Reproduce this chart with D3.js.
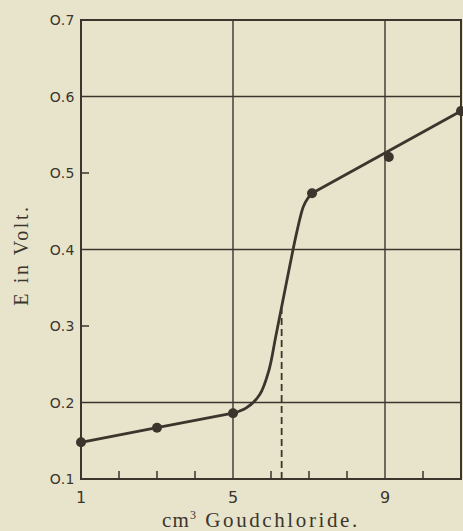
<!DOCTYPE html>
<html>
<head>
<meta charset="utf-8">
<script src="https://cdn.jsdelivr.net/npm/d3@7"></script>
<style>
  body { margin: 0; background: #e7e4cb; }
  svg { display: block; }
</style>
</head>
<body>
<svg id="chart" width="463" height="531"></svg>
<script>
// measured points (cm3 goudchloride, E in volt)
var pointX = [1, 3, 5, 7.08, 9.1, 11];
var pointY = [0.148, 0.167, 0.186, 0.4735, 0.521, 0.581];

// drawn curve: straight before 5, steep S between 5 and 7, straight after 7
var lowX = [1, 3, 5];
var lowY = [0.148, 0.167, 0.186];
var jumpX = [5, 5.35, 5.7, 5.95, 6.12, 6.3, 6.5, 6.68, 6.85, 6.97, 7.08];
var jumpY = [0.186, 0.193, 0.21, 0.243, 0.285, 0.33, 0.38, 0.423, 0.456, 0.467, 0.4735];
var highX = [7.08, 11];
var highY = [0.4735, 0.581];

// equivalence point, dashed line
var eqX = 6.28;
var eqY = 0.322;

var yTicks = [0.1, 0.2, 0.3, 0.4, 0.5, 0.6, 0.7];
var yGrid = [0.2, 0.4, 0.6];
var yMinor = [0.3, 0.5];
var xLabels = [1, 5, 9];
var xGrid = [5, 9];
var xMinor = [2, 3, 4, 6, 7, 8, 10];

var ink = '#3b352d';
var margin = { top: 20, right: 2, bottom: 52, left: 81 };
var svg = d3.select('#chart');
var width = +svg.attr('width') - margin.left - margin.right;
var height = +svg.attr('height') - margin.top - margin.bottom;

var x = d3.scaleLinear().domain([1, 11]).range([0, width]);
var y = d3.scaleLinear().domain([0.1, 0.7]).range([height, 0]);

var g = svg.append('g').attr('transform', 'translate(' + margin.left + ',' + margin.top + ')');

// grid lines
g.selectAll('.hgrid').data(yGrid).enter().append('line')
  .attr('x1', 0).attr('x2', width)
  .attr('y1', d => y(d)).attr('y2', d => y(d))
  .attr('stroke', ink).attr('stroke-width', 1.4);

g.selectAll('.vgrid').data(xGrid).enter().append('line')
  .attr('y1', 0).attr('y2', height)
  .attr('x1', d => x(d)).attr('x2', d => x(d))
  .attr('stroke', ink).attr('stroke-width', 1.4);

// small inward ticks
g.selectAll('.ytick').data(yMinor).enter().append('line')
  .attr('x1', 0).attr('x2', 8)
  .attr('y1', d => y(d)).attr('y2', d => y(d))
  .attr('stroke', ink).attr('stroke-width', 1.5);

g.selectAll('.xtick').data(xMinor).enter().append('line')
  .attr('y1', height).attr('y2', height - 8)
  .attr('x1', d => x(d)).attr('x2', d => x(d))
  .attr('stroke', ink).attr('stroke-width', 1.5);

// frame
g.append('rect')
  .attr('x', 0).attr('y', 0).attr('width', width).attr('height', height)
  .attr('fill', 'none').attr('stroke', ink).attr('stroke-width', 2);

// dashed line at the equivalence point
g.append('line')
  .attr('x1', x(eqX)).attr('x2', x(eqX))
  .attr('y1', y(0.1)).attr('y2', y(eqY))
  .attr('stroke', ink).attr('stroke-width', 1.8)
  .attr('stroke-dasharray', '7,4');

// the curve, in three parts
function pairs(xs, ys) {
  return xs.map((d, i) => [d, ys[i]]);
}

var straight = d3.line().x(d => x(d[0])).y(d => y(d[1]));
var smooth = d3.line().x(d => x(d[0])).y(d => y(d[1])).curve(d3.curveCatmullRom.alpha(0.5));

[[pairs(lowX, lowY), straight], [pairs(jumpX, jumpY), smooth], [pairs(highX, highY), straight]]
  .forEach(function(part) {
    g.append('path')
      .datum(part[0])
      .attr('d', part[1])
      .attr('fill', 'none')
      .attr('stroke', ink)
      .attr('stroke-width', 2.8)
      .attr('stroke-linejoin', 'round')
      .attr('stroke-linecap', 'round');
  });

// the points
g.selectAll('.dot').data(pointX).enter().append('circle')
  .attr('cx', d => x(d))
  .attr('cy', (d, i) => y(pointY[i]))
  .attr('r', 5)
  .attr('fill', ink);

// tick labels
g.selectAll('.ylabel').data(yTicks).enter().append('text')
  .attr('x', -6)
  .attr('y', d => y(d))
  .attr('dy', '0.36em')
  .attr('text-anchor', 'end')
  .attr('font-family', 'DejaVu Sans')
  .attr('font-size', 14)
  .attr('letter-spacing', 0.5)
  .attr('fill', ink)
  .text(d => d.toFixed(1).replace('0', 'O'));

g.selectAll('.xlabel').data(xLabels).enter().append('text')
  .attr('x', d => x(d))
  .attr('y', height + 24)
  .attr('text-anchor', 'middle')
  .attr('font-family', 'DejaVu Sans')
  .attr('font-size', 16)
  .attr('fill', ink)
  .text(d => d);

// axis titles
var xTitle = svg.append('text')
  .attr('x', 162)
  .attr('y', 527)
  .attr('font-family', 'Liberation Serif')
  .attr('font-size', 21)
  .attr('letter-spacing', 1.2)
  .attr('fill', ink);
xTitle.append('tspan').text('cm');
xTitle.append('tspan').attr('dy', -8).attr('font-size', 12).text('3');
xTitle.append('tspan').attr('dy', 8).attr('dx', 8).attr('letter-spacing', 2.6).text('Goudchloride.');

svg.append('text')
  .attr('transform', 'translate(28,255) rotate(-90)')
  .attr('text-anchor', 'middle')
  .attr('font-family', 'Liberation Serif')
  .attr('font-size', 20)
  .attr('letter-spacing', 2.6)
  .attr('fill', ink)
  .text('E in Volt.');
</script>
</body>
</html>
